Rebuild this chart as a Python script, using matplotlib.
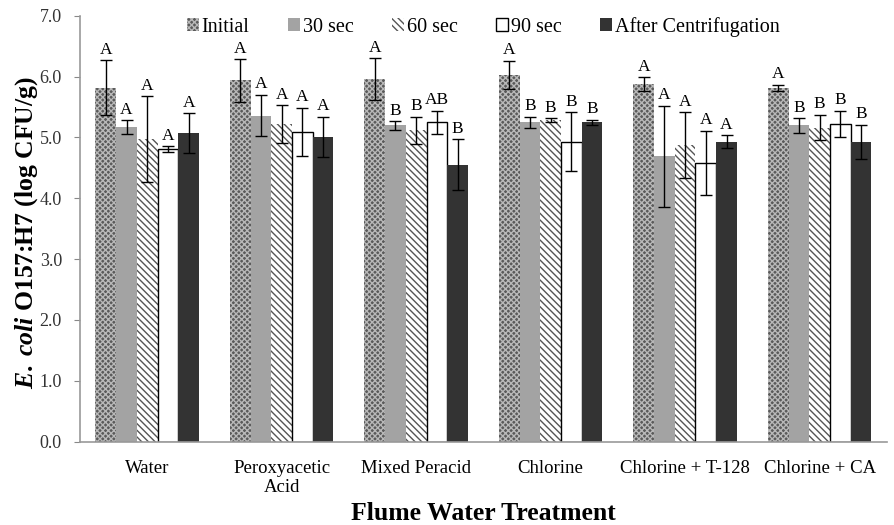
import numpy as np
import matplotlib
matplotlib.use("Agg")
import matplotlib.pyplot as plt

categories = ["Water", "Peroxyacetic\nAcid", "Mixed Peracid", "Chlorine",
              "Chlorine + T-128", "Chlorine + CA"]
series = ["Initial", "30 sec", "60 sec", "90 sec", "After Centrifugation"]

means = {
    "Initial":              [5.82, 5.94, 5.96, 6.03, 5.88, 5.82],
    "30 sec":               [5.17, 5.36, 5.20, 5.25, 4.69, 5.20],
    "60 sec":               [4.97, 5.22, 5.12, 5.29, 4.87, 5.16],
    "90 sec":               [4.81, 5.09, 5.25, 4.93, 4.58, 5.22],
    "After Centrifugation": [5.07, 5.01, 4.55, 5.25, 4.93, 4.93],
}
errors = {
    "Initial":              [0.45, 0.35, 0.34, 0.23, 0.11, 0.05],
    "30 sec":               [0.11, 0.34, 0.07, 0.09, 0.83, 0.12],
    "60 sec":               [0.71, 0.31, 0.22, 0.03, 0.54, 0.21],
    "90 sec":               [0.05, 0.40, 0.19, 0.48, 0.53, 0.22],
    "After Centrifugation": [0.33, 0.33, 0.42, 0.04, 0.11, 0.28],
}
letters = {
    "Initial":              ["A", "A", "A", "A", "A", "A"],
    "30 sec":               ["A", "A", "B", "B", "A", "B"],
    "60 sec":               ["A", "A", "B", "B", "A", "B"],
    "90 sec":               ["A", "A", "AB", "B", "A", "B"],
    "After Centrifugation": ["A", "A", "B", "B", "A", "B"],
}

styles = {
    "Initial":              dict(facecolor="#5a5a5a", edgecolor="#b8b8b8", hatch="xxxxxx", linewidth=0),
    "30 sec":               dict(facecolor="#a3a3a3", edgecolor="#a3a3a3", linewidth=0),
    "60 sec":               dict(facecolor="white", edgecolor="#555555", hatch="\\\\\\\\\\", linewidth=0),
    "90 sec":               dict(facecolor="white", edgecolor="black", linewidth=1.0),
    "After Centrifugation": dict(facecolor="#333333", edgecolor="#333333", linewidth=0),
}

plt.rcParams['font.family'] = ['Liberation Serif', 'DejaVu Serif']
plt.rcParams['mathtext.fontset'] = 'custom'
plt.rcParams['mathtext.rm'] = 'Liberation Serif:bold'
plt.rcParams['mathtext.it'] = 'Liberation Serif:italic:bold'
plt.rcParams['mathtext.bf'] = 'Liberation Serif:bold'
plt.rcParams['hatch.linewidth'] = 1.0

fig = plt.figure(figsize=(8.94, 5.25), dpi=100)
ax = fig.add_axes([0.0895, 0.1587, 0.9025, 0.8113])

x = np.arange(len(categories))
w = 0.154
n = len(series)
for i, s in enumerate(series):
    pos = x + (i - (n - 1) / 2) * w
    ax.bar(pos, means[s], w, label=s, zorder=2, **styles[s])
    ax.errorbar(pos, means[s], yerr=errors[s], fmt='none', ecolor='black',
                elinewidth=1.0, capsize=4, capthick=1.0, zorder=3)
    for xp, m, e, L in zip(pos, means[s], errors[s], letters[s]):
        ax.text(xp, m + e + 0.04, L, ha='center', va='bottom', fontsize=12.5)

ax.set_xlim(-0.5, len(categories) - 0.5)
ax.set_ylim(0, 7)
ax.set_yticks(np.arange(0, 7.01, 1.0))
ax.set_yticklabels([f"{v:.1f}" for v in np.arange(0, 7.01, 1.0)], fontsize=13,
                   color='#333333')
ax.set_xticks(x)
ax.set_xticklabels(categories, fontsize=13.5, linespacing=1.15)
ax.tick_params(axis='x', length=0, pad=13)
ax.tick_params(axis='y', length=4, color='#888888', direction='out', pad=9)
for sp in ['top', 'right']:
    ax.spines[sp].set_visible(False)
for sp in ['left', 'bottom']:
    ax.spines[sp].set_color('#999999')
    ax.spines[sp].set_linewidth(1.2)

ax.set_ylabel(r'$\mathit{E.\;coli}$ O157:H7 (log CFU/g)', fontsize=18.5,
              fontweight='bold', va='center')
ax.yaxis.set_label_coords(-0.0665, 0.49)
ax.set_xlabel('Flume Water Treatment', fontsize=18.5, fontweight='bold', va='center')
ax.xaxis.set_label_coords(0.5, -0.168)

leg = ax.legend(loc='upper center', bbox_to_anchor=(0.5, 1.04), ncol=5,
                frameon=False, fontsize=14.5, handlelength=0.6, handleheight=0.6,
                handletextpad=0.15, columnspacing=1.9)

fig.savefig("out.png", dpi=100)
